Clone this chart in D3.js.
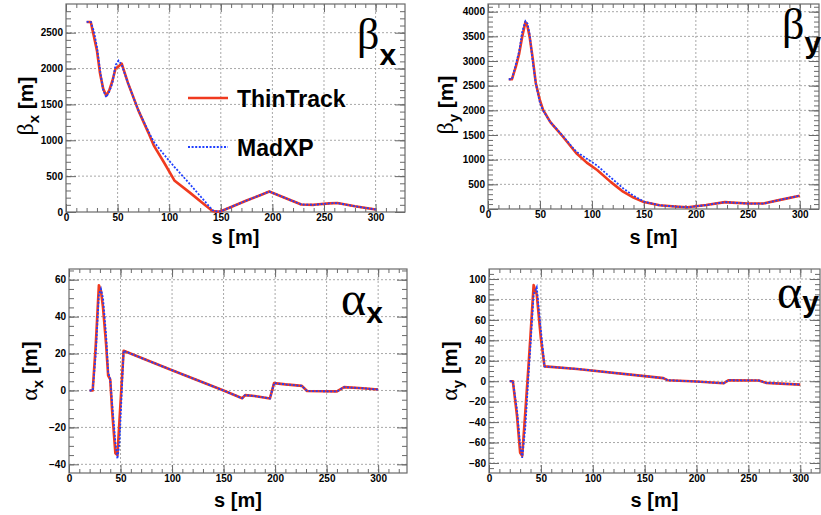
<!DOCTYPE html>
<html><head><meta charset="utf-8">
<script src="https://cdn.jsdelivr.net/npm/d3@7"></script>
<style>
body{margin:0;background:#fff}
text{font-family:"Liberation Sans",Arial,Helvetica,sans-serif}
</style>
</head><body>
<svg id="c" width="821" height="515"></svg>
<script>
// ---------- data ----------
const seriesNames = ["ThinTrack", "MadXP"];
const xMajorTicks = [0, 50, 100, 150, 200, 250, 300];

const sBetaX    = [20, 24, 27, 30, 33, 36, 39, 42, 45, 48, 51, 54, 60, 70, 80, 85, 95, 105, 120, 135, 142, 146, 150, 160, 175, 190, 197, 210, 228, 240, 255, 263, 280, 300];
const betaXThin = [2650, 2650, 2450, 2250, 1930, 1720, 1620, 1700, 1830, 2000, 2030, 2070, 1800, 1420, 1100, 930, 690, 440, 270, 95, 15, 5, 10, 70, 160, 245, 285, 210, 105, 100, 120, 125, 80, 35];
const betaXMad  = [2650, 2650, 2520, 2300, 1980, 1700, 1600, 1680, 1800, 2050, 2110, 2050, 1800, 1420, 1120, 980, 800, 630, 390, 140, 25, 8, 10, 70, 160, 245, 285, 210, 105, 100, 120, 125, 80, 35];
const betaXTicks = [0, 500, 1000, 1500, 2000, 2500];

const sBetaY    = [20, 23, 27, 30, 33, 36, 38, 40, 43, 46, 50, 53, 60, 70, 85, 95, 105, 118, 130, 140, 150, 165, 180, 192, 210, 228, 235, 250, 265, 280, 300];
const betaYThin = [2630, 2630, 2900, 3150, 3500, 3790, 3700, 3500, 3060, 2550, 2200, 2010, 1760, 1520, 1130, 940, 790, 550, 350, 230, 140, 75, 50, 35, 80, 140, 130, 110, 110, 180, 270];
const betaYMad  = [2630, 2630, 2950, 3200, 3600, 3810, 3760, 3550, 3000, 2550, 2150, 2000, 1760, 1530, 1160, 1020, 880, 640, 420, 270, 150, 75, 50, 35, 80, 140, 130, 110, 110, 180, 270];
const betaYTicks = [0, 500, 1000, 1500, 2000, 2500, 3000, 3500, 4000];

const sAlphaX    = [20, 23, 26, 29, 31, 33, 36, 38, 40, 42, 45, 47, 49, 53, 100, 150, 168, 171, 180, 195, 199, 210, 226, 231, 260, 267, 285, 300];
const alphaXThin = [0, 0, 25, 57, 54, 45, 25, 8, 6, -12, -34, -35, -16, 21.5, 11, 0, -4.2, -2.5, -3, -4.3, 4, 3.3, 2.5, -0.3, -0.5, 1.8, 1.2, 0.5];
const alphaXMad  = [0, 0, 20, 52, 55, 50, 30, 10, 6, -8, -28, -37, -28, 21.5, 11, 0, -4.2, -2.5, -3, -4.3, 4, 3.3, 2.5, -0.3, -0.5, 1.8, 1.2, 0.5];
const alphaXTicks = [-40, -20, 0, 20, 40, 60];

const sAlphaY    = [20, 23, 27, 30, 32, 35, 38, 40, 43, 46, 50, 53.5, 85, 150, 168, 172, 200, 226, 231, 260, 267, 300];
const alphaYThin = [0, 0, -34, -70, -73, -30, 14, 45, 94, 85, 42, 14.5, 12, 5, 3, 1, -0.3, -2, 1, 0.7, -1.6, -3.3];
const alphaYMad  = [0, 0, -28, -62, -75, -45, 5, 35, 85, 92, 50, 14.5, 12, 5, 3, 1, -0.3, -2, 1, 0.7, -1.6, -3.3];
const alphaYTicks = [-80, -60, -40, -20, 0, 20, 40, 60, 80, 100];

// ---------- style ----------
const RED = "#f03a1f", BLUE = "#1f3fff", AXC = "#6a6a6a", GRIDC = "#a8a8a8";
const svg = d3.select("#c");

function panel(cfg) {
  const f = cfg.frame;
  const x = d3.scaleLinear().domain(cfg.xDomain).range([f.x0, f.x1]);
  const y = d3.scaleLinear().domain(cfg.yDomain).range([f.y1, f.y0]);
  const g = svg.append("g");

  // grid
  g.append("g").selectAll("line").data(xMajorTicks.filter(v => v > 0)).join("line")
    .attr("x1", d => x(d)).attr("x2", d => x(d)).attr("y1", f.y0).attr("y2", f.y1)
    .attr("stroke", GRIDC).attr("stroke-width", 1).attr("stroke-dasharray", "2,2");
  g.append("g").selectAll("line").data(cfg.yTicks.filter(v => y(v) < f.y1 - 1)).join("line")
    .attr("x1", f.x0).attr("x2", f.x1).attr("y1", d => y(d)).attr("y2", d => y(d))
    .attr("stroke", GRIDC).attr("stroke-width", 1).attr("stroke-dasharray", "2,2");

  const xMinor = d3.range(0, cfg.xDomain[1], 10);
  const yMinor = d3.range(Math.ceil(cfg.yDomain[0] / cfg.yMinorStep) * cfg.yMinorStep, cfg.yDomain[1], cfg.yMinorStep);

  function styleAxis(a) {
    a.select(".domain").remove();
    a.selectAll(".tick line").attr("stroke", AXC).attr("stroke-width", 1);
    a.selectAll(".tick text").attr("fill", "#000").style("font-weight", "bold").style("font-size", "10px")
      .style("font-family", '"Liberation Sans",Arial,sans-serif');
  }
  // bottom
  g.append("g").attr("transform", `translate(0,${f.y1})`)
    .call(d3.axisBottom(x).tickValues(xMinor).tickSize(-4).tickFormat("")).call(styleAxis);
  g.append("g").attr("transform", `translate(0,${f.y1})`)
    .call(d3.axisBottom(x).tickValues(xMajorTicks).tickSize(-8).tickPadding(2).tickFormat(d3.format("d"))).call(styleAxis);
  // top
  g.append("g").attr("transform", `translate(0,${f.y0})`)
    .call(d3.axisTop(x).tickValues(xMinor).tickSize(-4).tickFormat("")).call(styleAxis);
  g.append("g").attr("transform", `translate(0,${f.y0})`)
    .call(d3.axisTop(x).tickValues(xMajorTicks).tickSize(-8).tickFormat("")).call(styleAxis);
  // left
  g.append("g").attr("transform", `translate(${f.x0},0)`)
    .call(d3.axisLeft(y).tickValues(yMinor).tickSize(-5).tickFormat("")).call(styleAxis);
  g.append("g").attr("transform", `translate(${f.x0},0)`)
    .call(d3.axisLeft(y).tickValues(cfg.yTicks).tickSize(-10).tickPadding(3).tickFormat(d3.format("d"))).call(styleAxis);
  // right
  g.append("g").attr("transform", `translate(${f.x1},0)`)
    .call(d3.axisRight(y).tickValues(yMinor).tickSize(-5).tickFormat("")).call(styleAxis);
  g.append("g").attr("transform", `translate(${f.x1},0)`)
    .call(d3.axisRight(y).tickValues(cfg.yTicks).tickSize(-10).tickFormat("")).call(styleAxis);

  // frame
  g.append("rect").attr("x", f.x0).attr("y", f.y0).attr("width", f.x1 - f.x0).attr("height", f.y1 - f.y0)
    .attr("fill", "none").attr("stroke", AXC).attr("stroke-width", 1.2);

  // curves
  const line = d3.line().x(d => x(d[0])).y(d => y(d[1]));
  g.append("path").datum(d3.zip(cfg.s, cfg.thin)).attr("d", line)
    .attr("fill", "none").attr("stroke", RED).attr("stroke-width", 2.6).attr("stroke-linejoin", "round");
  g.append("path").datum(d3.zip(cfg.s, cfg.mad)).attr("d", line)
    .attr("fill", "none").attr("stroke", BLUE).attr("stroke-width", 1.8).attr("stroke-dasharray", "2,1.6");

  // x title
  g.append("text").attr("x", (f.x0 + f.x1) / 2).attr("y", cfg.xTitleY).attr("text-anchor", "middle")
    .style("font-weight", "bold").style("font-size", "20px").text("s [m]");

  // y title
  const yt = g.append("text").attr("transform", `translate(${cfg.yTitle[0]},${cfg.yTitle[1]}) rotate(-90)`)
    .attr("text-anchor", "middle").style("font-weight", "bold").style("font-size", "21px");
  yt.append("tspan").style("font-family", '"Liberation Serif","Times New Roman",serif').style("font-weight", "normal")
    .style("font-size", "24px").text(cfg.greek);
  yt.append("tspan").attr("dy", 6).style("font-size", "15px").text(cfg.sub);
  yt.append("tspan").attr("dy", -6).text(" [m]");

  // big label
  const bt = g.append("text").attr("x", cfg.big[0]).attr("y", cfg.big[1]);
  bt.append("tspan").style("font-family", '"Liberation Serif","Times New Roman",serif')
    .style("font-size", cfg.bigSize + "px").text(cfg.greek);
  bt.append("tspan").attr("dy", cfg.subDy).style("font-weight", "bold").style("font-size", "30px").text(cfg.sub);
  return { x, y, g };
}

const p1 = panel({ frame: { x0: 66, x1: 405, y0: 4, y1: 212 }, xDomain: [0, 328.5], yDomain: [0, 2900],
  yTicks: betaXTicks, yMinorStep: 100, s: sBetaX, thin: betaXThin, mad: betaXMad,
  greek: "β", sub: "x", xTitleY: 244, yTitle: [33, 106], big: [357, 49], bigSize: 44, subDy: 16 });
panel({ frame: { x0: 488, x1: 819, y0: 4, y1: 209 }, xDomain: [0, 318.5], yDomain: [0, 4156],
  yTicks: betaYTicks, yMinorStep: 100, s: sBetaY, thin: betaYThin, mad: betaYMad,
  greek: "β", sub: "y", xTitleY: 244, yTitle: [453, 105], big: [782, 39], bigSize: 44, subDy: 14 });
panel({ frame: { x0: 69, x1: 407, y0: 269, y1: 473 }, xDomain: [0, 328], yDomain: [-44.7, 65.8],
  yTicks: alphaXTicks, yMinorStep: 5, s: sAlphaX, thin: alphaXThin, mad: alphaXMad,
  greek: "α", sub: "x", xTitleY: 507, yTitle: [37, 371], big: [341, 315], bigSize: 48, subDy: 8 });
panel({ frame: { x0: 489, x1: 820, y0: 269, y1: 473 }, xDomain: [0, 319], yDomain: [-89.8, 109.8],
  yTicks: alphaYTicks, yMinorStep: 5, s: sAlphaY, thin: alphaYThin, mad: alphaYMad,
  greek: "α", sub: "y", xTitleY: 507, yTitle: [457, 371], big: [777, 308], bigSize: 48, subDy: 4 });

// legend (panel 1)
const leg = p1.g.append("g");
const legY = [98, 147];
leg.selectAll("line").data(seriesNames).join("line")
  .attr("x1", 188).attr("x2", 228).attr("y1", (d, i) => legY[i]).attr("y2", (d, i) => legY[i])
  .attr("stroke", (d, i) => i === 0 ? RED : BLUE).attr("stroke-width", (d, i) => i === 0 ? 2.6 : 1.8)
  .attr("stroke-dasharray", (d, i) => i === 0 ? null : "2,1.6");
leg.selectAll("text").data(seriesNames).join("text")
  .attr("x", 237).attr("y", (d, i) => legY[i] + 9)
  .style("font-weight", "bold").style("font-size", "23px").text(d => d);
</script>
</body></html>
